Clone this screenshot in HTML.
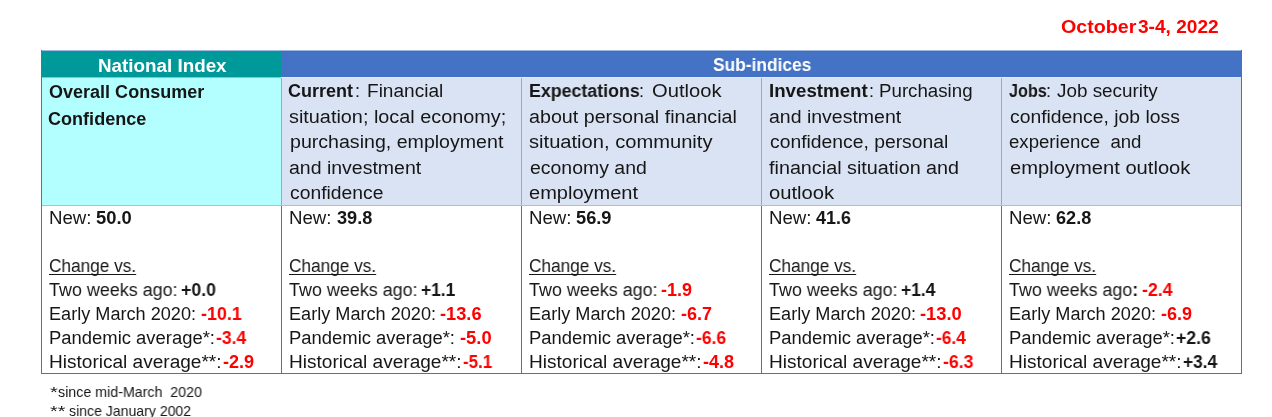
<!DOCTYPE html>
<html><head><meta charset="utf-8"><style>
html,body{margin:0;padding:0;background:#fff;}
body{width:1272px;height:417px;position:relative;overflow:hidden;font-family:"Liberation Sans",sans-serif;color:#161616;}
.bx{position:absolute;}
.t{position:absolute;white-space:nowrap;line-height:1;transform-origin:0 0;will-change:transform;}
b{font-weight:bold;}
.r{color:#FF0000;}
u{text-decoration:underline;text-underline-offset:2px;text-decoration-thickness:1px;text-decoration-skip-ink:none;}
.hd{color:#fff;font-weight:bold;}
.dt{color:#FF0000;font-weight:bold;}
</style></head><body>
<div class="bx" style="left:42px;top:51px;width:239px;height:26px;background:#009999"></div>
<div class="bx" style="left:281px;top:51px;width:960px;height:26px;background:#4472C4"></div>
<div class="bx" style="left:42px;top:77px;width:239px;height:1px;background:#9DB3DE"></div>
<div class="bx" style="left:281px;top:77px;width:960px;height:1px;background:#E3EAF6"></div>
<div class="bx" style="left:42px;top:78px;width:239px;height:127px;background:#B3FFFF"></div>
<div class="bx" style="left:281px;top:78px;width:960px;height:127px;background:#DAE3F3"></div>
<div class="bx" style="left:281px;top:78px;width:1px;height:127px;background:#8EA9DB"></div>
<div class="bx" style="left:521px;top:78px;width:1px;height:127px;background:#8EA9DB"></div>
<div class="bx" style="left:761px;top:78px;width:1px;height:127px;background:#8EA9DB"></div>
<div class="bx" style="left:1001px;top:78px;width:1px;height:127px;background:#8EA9DB"></div>
<div class="bx" style="left:42px;top:205px;width:1199px;height:1px;background:#A9BEE4"></div>
<div class="bx" style="left:281px;top:206px;width:1px;height:167px;background:#4472C4"></div>
<div class="bx" style="left:521px;top:206px;width:1px;height:167px;background:#4472C4"></div>
<div class="bx" style="left:761px;top:206px;width:1px;height:167px;background:#4472C4"></div>
<div class="bx" style="left:1001px;top:206px;width:1px;height:167px;background:#4472C4"></div>
<div class="bx" style="left:41px;top:50px;width:1201px;height:1px;background:#A2B9E2"></div>
<div class="bx" style="left:42px;top:51px;width:239px;height:1px;background:#2285AE"></div>
<div class="bx" style="left:281px;top:51px;width:960px;height:1px;background:#3F6DBE"></div>
<div class="bx" style="left:41px;top:373px;width:1201px;height:1px;background:#4472C4"></div>
<div class="bx" style="left:41px;top:50px;width:1px;height:324px;background:#4472C4"></div>
<div class="bx" style="left:1241px;top:50px;width:1px;height:324px;background:#4472C4"></div>
<div id="c1l1" class="t " style="left:49.29px;top:83px;font-size:18.00px;transform:scaleX(1.0011)"><b>Overall Consumer</b></div>
<div id="c1l2" class="t " style="left:48.34px;top:110px;font-size:18.00px;transform:scaleX(1.0033)"><b>Confidence</b></div>
<div id="r2c0l0b" class="t " style="left:288.41px;top:82px;font-size:18.00px;transform:scaleX(1.0004)"><b>Current</b></div>
<div id="r2c0l0r" class="t " style="left:367.03px;top:82px;font-size:18.00px;transform:scaleX(1.0582)">Financial</div>
<div id="r2c0l0c" class="t " style="left:354.50px;top:82px;font-size:18.00px;transform:scaleX(1.0000)">:</div>
<div id="r2c1l0b" class="t " style="left:528.50px;top:82px;font-size:18.00px;transform:scaleX(0.9886)"><b>Expectations</b></div>
<div id="r2c1l0r" class="t " style="left:651.71px;top:82px;font-size:18.00px;transform:scaleX(1.1198)">Outlook</div>
<div id="r2c1l0c" class="t " style="left:639.40px;top:82px;font-size:18.00px;transform:scaleX(1.0000)">:</div>
<div id="r2c2l0b" class="t " style="left:769.21px;top:82px;font-size:18.00px;transform:scaleX(1.0383)"><b>Investment</b></div>
<div id="r2c2l0r" class="t " style="left:878.54px;top:82px;font-size:18.00px;transform:scaleX(1.0392)">Purchasing</div>
<div id="r2c2l0c" class="t " style="left:868.70px;top:82px;font-size:18.00px;transform:scaleX(1.0000)">:</div>
<div id="r2c3l0b" class="t " style="left:1008.60px;top:82px;font-size:18.00px;transform:scaleX(0.8998)"><b>Jobs</b></div>
<div id="r2c3l0r" class="t " style="left:1057.31px;top:82px;font-size:18.00px;transform:scaleX(1.0485)">Job security</div>
<div id="r2c3l0c" class="t " style="left:1046.40px;top:82px;font-size:18.00px;transform:scaleX(1.0000)">:</div>
<div id="r2c0l1" class="t " style="left:289.28px;top:108px;font-size:18.00px;transform:scaleX(1.1022)">situation; local economy;</div>
<div id="r2c0l2" class="t " style="left:289.61px;top:133px;font-size:18.00px;transform:scaleX(1.0879)">purchasing, employment</div>
<div id="r2c0l3" class="t " style="left:288.95px;top:159px;font-size:18.00px;transform:scaleX(1.0831)">and investment</div>
<div id="r2c0l4" class="t " style="left:289.76px;top:184px;font-size:18.00px;transform:scaleX(1.0727)">confidence</div>
<div id="r2c1l1" class="t " style="left:528.77px;top:108px;font-size:18.00px;transform:scaleX(1.0933)">about personal financial</div>
<div id="r2c1l2" class="t " style="left:529.19px;top:133px;font-size:18.00px;transform:scaleX(1.1183)">situation, community</div>
<div id="r2c1l3" class="t " style="left:529.53px;top:159px;font-size:18.00px;transform:scaleX(1.0809)">economy and</div>
<div id="r2c1l4" class="t " style="left:529.11px;top:184px;font-size:18.00px;transform:scaleX(1.1125)">employment</div>
<div id="r2c2l1" class="t " style="left:768.95px;top:108px;font-size:18.00px;transform:scaleX(1.0831)">and investment</div>
<div id="r2c2l2" class="t " style="left:769.80px;top:133px;font-size:18.00px;transform:scaleX(1.0733)">confidence, personal</div>
<div id="r2c2l3" class="t " style="left:769.45px;top:159px;font-size:18.00px;transform:scaleX(1.0981)">financial situation and</div>
<div id="r2c2l4" class="t " style="left:769.26px;top:184px;font-size:18.00px;transform:scaleX(1.1231)">outlook</div>
<div id="r2c3l1" class="t " style="left:1009.75px;top:108px;font-size:18.00px;transform:scaleX(1.0742)">confidence, job loss</div>
<div id="r2c3l2" class="t " style="left:1009.36px;top:133px;font-size:18.00px;transform:scaleX(1.0342)">experience&nbsp; and</div>
<div id="r2c3l3" class="t " style="left:1009.60px;top:159px;font-size:18.00px;transform:scaleX(1.1199)">employment outlook</div>
<div id="r3c0l0a" class="t " style="left:49.24px;top:209px;font-size:18.00px;transform:scaleX(1.0372)">New:</div>
<div id="r3c0l1" class="t " style="left:49.22px;top:257px;font-size:18.00px;transform:scaleX(0.9574)"><u>Change vs.</u></div>
<div id="r3c0l2a" class="t " style="left:49.40px;top:281px;font-size:18.00px;transform:scaleX(0.9964)">Two weeks ago:</div>
<div id="r3c0l3a" class="t " style="left:48.58px;top:305px;font-size:18.00px;transform:scaleX(1.0064)">Early March 2020:</div>
<div id="r3c0l4a" class="t " style="left:49.15px;top:329px;font-size:18.00px;transform:scaleX(1.0236)">Pandemic average*:</div>
<div id="r3c0l5a" class="t " style="left:48.86px;top:353px;font-size:18.00px;transform:scaleX(1.0582)">Historical average**:</div>
<div id="r3c0l0n" class="t " style="left:95.58px;top:209px;font-size:18.00px;transform:scaleX(1.0218)"><b class="">50.0</b></div>
<div id="r3c0l2n" class="t " style="left:180.65px;top:281px;font-size:18.00px;transform:scaleX(0.9847)"><b class="">+0.0</b></div>
<div id="r3c0l3n" class="t " style="left:200.54px;top:305px;font-size:18.00px;transform:scaleX(0.9938)"><b class="r">-10.1</b></div>
<div id="r3c0l4n" class="t " style="left:216.04px;top:329px;font-size:18.00px;transform:scaleX(0.9745)"><b class="r">-3.4</b></div>
<div id="r3c0l5n" class="t " style="left:222.96px;top:353px;font-size:18.00px;transform:scaleX(1.0053)"><b class="r">-2.9</b></div>
<div id="r3c1l0a" class="t " style="left:289.24px;top:209px;font-size:18.00px;transform:scaleX(1.0372)">New:</div>
<div id="r3c1l1" class="t " style="left:289.22px;top:257px;font-size:18.00px;transform:scaleX(0.9574)"><u>Change vs.</u></div>
<div id="r3c1l2a" class="t " style="left:289.40px;top:281px;font-size:18.00px;transform:scaleX(0.9964)">Two weeks ago:</div>
<div id="r3c1l3a" class="t " style="left:288.58px;top:305px;font-size:18.00px;transform:scaleX(1.0064)">Early March 2020:</div>
<div id="r3c1l4a" class="t " style="left:289.15px;top:329px;font-size:18.00px;transform:scaleX(1.0236)">Pandemic average*:</div>
<div id="r3c1l5a" class="t " style="left:288.86px;top:353px;font-size:18.00px;transform:scaleX(1.0582)">Historical average**:</div>
<div id="r3c1l0n" class="t " style="left:336.50px;top:209px;font-size:18.00px;transform:scaleX(1.0091)"><b class="">39.8</b></div>
<div id="r3c1l2n" class="t " style="left:420.65px;top:281px;font-size:18.00px;transform:scaleX(0.9651)"><b class="">+1.1</b></div>
<div id="r3c1l3n" class="t " style="left:440.39px;top:305px;font-size:18.00px;transform:scaleX(1.0122)"><b class="r">-13.6</b></div>
<div id="r3c1l4n" class="t " style="left:460.21px;top:329px;font-size:18.00px;transform:scaleX(1.0191)"><b class="r">-5.0</b></div>
<div id="r3c1l5n" class="t " style="left:463.04px;top:353px;font-size:18.00px;transform:scaleX(0.9423)"><b class="r">-5.1</b></div>
<div id="r3c2l0a" class="t " style="left:529.24px;top:209px;font-size:18.00px;transform:scaleX(1.0372)">New:</div>
<div id="r3c2l1" class="t " style="left:529.22px;top:257px;font-size:18.00px;transform:scaleX(0.9574)"><u>Change vs.</u></div>
<div id="r3c2l2a" class="t " style="left:529.40px;top:281px;font-size:18.00px;transform:scaleX(0.9964)">Two weeks ago:</div>
<div id="r3c2l3a" class="t " style="left:528.58px;top:305px;font-size:18.00px;transform:scaleX(1.0064)">Early March 2020:</div>
<div id="r3c2l4a" class="t " style="left:529.15px;top:329px;font-size:18.00px;transform:scaleX(1.0236)">Pandemic average*:</div>
<div id="r3c2l5a" class="t " style="left:528.86px;top:353px;font-size:18.00px;transform:scaleX(1.0582)">Historical average**:</div>
<div id="r3c2l0n" class="t " style="left:575.62px;top:209px;font-size:18.00px;transform:scaleX(1.0127)"><b class="">56.9</b></div>
<div id="r3c2l2n" class="t " style="left:660.64px;top:281px;font-size:18.00px;transform:scaleX(0.9979)"><b class="r">-1.9</b></div>
<div id="r3c2l3n" class="t " style="left:680.51px;top:305px;font-size:18.00px;transform:scaleX(0.9987)"><b class="r">-6.7</b></div>
<div id="r3c2l4n" class="t " style="left:696.04px;top:329px;font-size:18.00px;transform:scaleX(0.9716)"><b class="r">-6.6</b></div>
<div id="r3c2l5n" class="t " style="left:703.01px;top:353px;font-size:18.00px;transform:scaleX(1.0006)"><b class="r">-4.8</b></div>
<div id="r3c3l0a" class="t " style="left:769.24px;top:209px;font-size:18.00px;transform:scaleX(1.0372)">New:</div>
<div id="r3c3l1" class="t " style="left:769.22px;top:257px;font-size:18.00px;transform:scaleX(0.9574)"><u>Change vs.</u></div>
<div id="r3c3l2a" class="t " style="left:769.40px;top:281px;font-size:18.00px;transform:scaleX(0.9964)">Two weeks ago:</div>
<div id="r3c3l3a" class="t " style="left:768.58px;top:305px;font-size:18.00px;transform:scaleX(1.0064)">Early March 2020:</div>
<div id="r3c3l4a" class="t " style="left:769.15px;top:329px;font-size:18.00px;transform:scaleX(1.0236)">Pandemic average*:</div>
<div id="r3c3l5a" class="t " style="left:768.86px;top:353px;font-size:18.00px;transform:scaleX(1.0582)">Historical average**:</div>
<div id="r3c3l0n" class="t " style="left:816.20px;top:209px;font-size:18.00px;transform:scaleX(0.9967)"><b class="">41.6</b></div>
<div id="r3c3l2n" class="t " style="left:900.65px;top:281px;font-size:18.00px;transform:scaleX(0.9666)"><b class="">+1.4</b></div>
<div id="r3c3l3n" class="t " style="left:920.32px;top:305px;font-size:18.00px;transform:scaleX(1.0191)"><b class="r">-13.0</b></div>
<div id="r3c3l4n" class="t " style="left:936.04px;top:329px;font-size:18.00px;transform:scaleX(0.9624)"><b class="r">-6.4</b></div>
<div id="r3c3l5n" class="t " style="left:943.04px;top:353px;font-size:18.00px;transform:scaleX(0.9799)"><b class="r">-6.3</b></div>
<div id="r3c4l0a" class="t " style="left:1009.24px;top:209px;font-size:18.00px;transform:scaleX(1.0372)">New:</div>
<div id="r3c4l1" class="t " style="left:1009.22px;top:257px;font-size:18.00px;transform:scaleX(0.9574)"><u>Change vs.</u></div>
<div id="r3c4l2a" class="t " style="left:1009.40px;top:281px;font-size:18.00px;transform:scaleX(0.9941)">Two weeks ago<b>:</b></div>
<div id="r3c4l3a" class="t " style="left:1008.58px;top:305px;font-size:18.00px;transform:scaleX(1.0064)">Early March 2020:</div>
<div id="r3c4l4a" class="t " style="left:1009.15px;top:329px;font-size:18.00px;transform:scaleX(1.0236)">Pandemic average*:</div>
<div id="r3c4l5a" class="t " style="left:1008.86px;top:353px;font-size:18.00px;transform:scaleX(1.0582)">Historical average**:</div>
<div id="r3c4l0n" class="t " style="left:1056.05px;top:209px;font-size:18.00px;transform:scaleX(1.0074)"><b class="">62.8</b></div>
<div id="r3c4l2n" class="t " style="left:1141.74px;top:281px;font-size:18.00px;transform:scaleX(0.9843)"><b class="r">-2.4</b></div>
<div id="r3c4l3n" class="t " style="left:1160.54px;top:305px;font-size:18.00px;transform:scaleX(0.9979)"><b class="r">-6.9</b></div>
<div id="r3c4l4n" class="t " style="left:1176.05px;top:329px;font-size:18.00px;transform:scaleX(0.9805)"><b class="">+2.6</b></div>
<div id="r3c4l5n" class="t " style="left:1183.05px;top:353px;font-size:18.00px;transform:scaleX(0.9603)"><b class="">+3.4</b></div>
<div id="h1" class="t hd" style="left:97.50px;top:57px;font-size:18.00px;transform:scaleX(1.0452)">National Index</div>
<div id="h2" class="t hd" style="left:712.73px;top:56px;font-size:18.00px;transform:scaleX(0.9637)">Sub-indices</div>
<div id="date1" class="t dt" style="left:1060.89px;top:18px;font-size:18.67px;transform:scaleX(1.0540)">October</div>
<div id="date2" class="t dt" style="left:1138.10px;top:18px;font-size:18.67px;transform:scaleX(1.0237)">3-4, 2022</div>
<div id="f1n" class="t " style="left:50.23px;top:385px;font-size:14.30px;transform:scaleX(1.4081)">*</div>
<div id="f1" class="t " style="left:57.97px;top:385px;font-size:14.30px;transform:scaleX(0.9953)">since mid-March&nbsp; 2020</div>
<div id="f2n" class="t " style="left:50.15px;top:404px;font-size:14.30px;transform:scaleX(1.3817)">**</div>
<div id="f2" class="t " style="left:69.30px;top:404px;font-size:14.30px;transform:scaleX(0.9849)">since January 2002</div>
</body></html>
